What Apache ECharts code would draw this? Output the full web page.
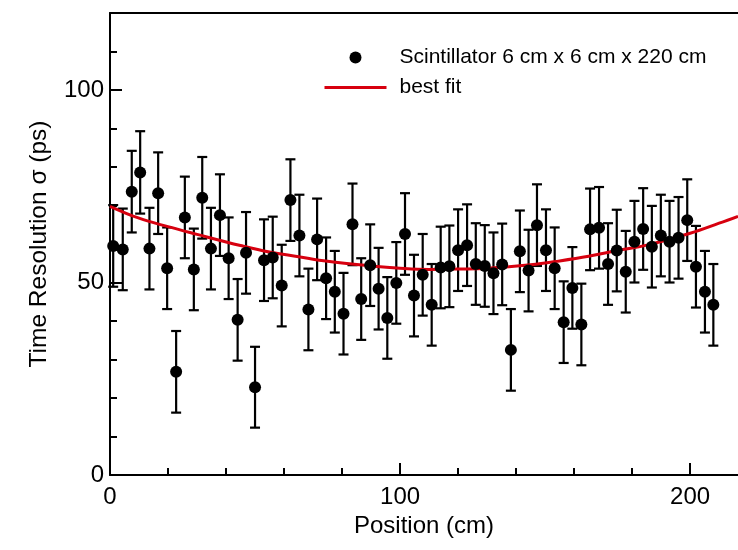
<!DOCTYPE html>
<html>
<head>
<meta charset="utf-8">
<script src="https://cdn.jsdelivr.net/npm/echarts@6/dist/echarts.min.js"></script>
<style>
html,body{margin:0;padding:0;background:#fff;}
#chart{width:738px;height:550px;}
</style>
</head>
<body>
<div id="chart"></div>
<script>
// ---- data ----
var positions = [1.1,4.4,7.5,10.4,13.6,16.6,19.7,22.8,25.8,28.9,31.8,34.8,37.9,40.9,44.0,46.9,50.0,53.1,
  56.1,59.2,62.2,65.3,68.4,71.4,74.5,77.5,80.5,83.6,86.6,89.7,92.6,95.6,98.7,101.7,104.8,107.8,
  110.9,114.0,117.0,120.0,123.1,126.1,129.2,132.2,135.2,138.2,141.3,144.3,147.2,150.3,153.3,156.4,159.4,162.5,
  165.5,168.6,171.7,174.7,177.8,180.8,183.8,186.8,189.9,192.9,196.0,199.0,202.0,205.1,208.0];
var resolution = [59.5,58.6,73.6,78.6,58.8,73.2,53.7,26.8,66.9,53.4,72.0,58.8,67.5,56.3,40.3,57.7,22.8,55.8,
  56.5,49.2,71.4,62.2,43.0,61.2,51.1,47.6,41.9,65.1,45.7,54.5,48.4,40.8,49.9,62.6,46.6,52.0,
  44.2,53.9,54.2,58.4,59.7,54.8,54.3,52.4,54.7,32.5,58.1,53.1,64.9,58.4,53.7,39.7,48.6,39.1,
  63.8,64.2,54.8,58.3,52.8,60.6,63.9,59.3,62.2,60.6,61.6,66.2,54.1,47.6,44.2];
var errors = [10.6,10.6,10.6,10.7,10.6,10.6,10.6,10.6,10.6,10.6,10.6,10.6,10.6,10.6,10.6,10.6,10.5,10.6,
  10.6,10.6,10.6,10.6,10.6,10.6,10.6,10.6,10.6,10.6,10.6,10.6,10.6,10.6,10.6,10.6,10.6,10.6,
  10.6,10.6,10.6,10.6,10.6,10.6,10.6,10.6,10.6,10.6,10.6,10.6,10.6,10.6,10.6,10.6,10.6,10.6,
  10.6,10.6,10.6,10.6,10.6,10.6,10.6,10.6,10.6,10.6,10.6,10.6,10.6,10.6,10.6];
var fitX = [0,10,20,30,45,55,65,75,90,100,110,120,130,145,155,165,175,185,200,210,216.5];
var fitY = [69.8,66.7,64.5,62.5,59.6,57.9,56.7,55.5,54.3,53.7,53.4,53.5,53.7,54.6,55.6,56.8,58.3,59.7,62.8,65.4,67.2];
var xMajorTicks = [0,100,200];
var xMinorTicks = [20,40,60,80,120,140,160,180];
var yMajorTicks = [0,50,100];
var yMinorTicks = [10,20,30,40,60,70,80,90,110];
var seriesName = 'Scintillator 6 cm x 6 cm x 220 cm';
var fitName = 'best fit';

var FONT = '"Liberation Sans", Arial, Helvetica, sans-serif';
var XMAX = 216.5, YMAX = 120;

var pts = positions.map(function(x,i){ return [x, resolution[i]]; });
var bars = positions.map(function(x,i){ return [x, resolution[i]-errors[i], resolution[i]+errors[i]]; });
var fit = fitX.map(function(x,i){ return [x, fitY[i]]; });

var chart = echarts.init(document.getElementById('chart'), null, {renderer:'canvas'});
var axisLineStyle = {color:'#000', width:2};
chart.setOption({
  backgroundColor:'#fff',
  animation:false,
  grid:{left:110, right:0, top:13, bottom:75, containLabel:false},
  legend:{
    orient:'vertical', left:323, top:47, padding:0,
    itemWidth:62, itemHeight:12, itemGap:9,
    data:[
      {name:seriesName, icon:'circle', itemStyle:{color:'#000', opacity:1}},
      {name:fitName, itemStyle:{opacity:0}, lineStyle:{color:'#d7000f', width:3}}
    ],
    textStyle:{fontFamily:FONT, fontSize:21, color:'#000', lineHeight:20, padding:[0,0,0,8]}
  },
  xAxis:[
    {type:'value', min:0, max:XMAX, position:'bottom',
     axisLine:{show:true, lineStyle:axisLineStyle},
     axisTick:{show:true, inside:true, length:12, lineStyle:{color:'#000', width:2}, customValues:xMajorTicks},
     axisLabel:{show:true, customValues:xMajorTicks, fontFamily:FONT, fontSize:24, color:'#000', margin:10},
     splitLine:{show:false},
     name:'Position (cm)', nameLocation:'middle', nameGap:38,
     nameTextStyle:{fontFamily:FONT, fontSize:24, color:'#000'}},
    {type:'value', min:0, max:XMAX, position:'bottom',
     axisLine:{show:false},
     axisTick:{show:true, inside:true, length:7, lineStyle:{color:'#000', width:2}, customValues:xMinorTicks},
     axisLabel:{show:false}, splitLine:{show:false}},
    {type:'value', min:0, max:XMAX, position:'top',
     axisLine:{show:true, lineStyle:axisLineStyle},
     axisTick:{show:false}, axisLabel:{show:false}, splitLine:{show:false}}
  ],
  yAxis:[
    {type:'value', min:0, max:YMAX, position:'left',
     axisLine:{show:true, lineStyle:axisLineStyle},
     axisTick:{show:true, inside:true, length:12, lineStyle:{color:'#000', width:2}, customValues:yMajorTicks},
     axisLabel:{show:true, customValues:yMajorTicks, fontFamily:FONT, fontSize:24, color:'#000', margin:6},
     splitLine:{show:false},
     name:'Time Resolution \u03c3 (ps)', nameLocation:'middle', nameGap:58,
     nameTextStyle:{fontFamily:FONT, fontSize:24.5, color:'#000'}},
    {type:'value', min:0, max:YMAX, position:'left',
     axisLine:{show:false},
     axisTick:{show:true, inside:true, length:7, lineStyle:{color:'#000', width:2}, customValues:yMinorTicks},
     axisLabel:{show:false}, splitLine:{show:false}}
  ],
  series:[
    {type:'custom', name:'errors', xAxisIndex:0, yAxisIndex:0, z:1,
     encode:{x:0, y:[1,2]},
     data:bars,
     renderItem:function(params, api){
       var x = api.value(0);
       var lo = api.coord([x, api.value(1)]);
       var hi = api.coord([x, api.value(2)]);
       var hw = 5;
       var st = {stroke:'#000', lineWidth:2.2};
       return {type:'group', children:[
         {type:'line', shape:{x1:lo[0], y1:lo[1], x2:hi[0], y2:hi[1]}, style:st},
         {type:'line', shape:{x1:hi[0]-hw, y1:hi[1], x2:hi[0]+hw, y2:hi[1]}, style:st},
         {type:'line', shape:{x1:lo[0]-hw, y1:lo[1], x2:lo[0]+hw, y2:lo[1]}, style:st}
       ]};
     }},
    {type:'line', name:fitName, xAxisIndex:0, yAxisIndex:0, z:2,
     data:fit, smooth:0.4, showSymbol:false, symbol:'none',
     lineStyle:{color:'#d7000f', width:3}, itemStyle:{color:'#d7000f'}},
    {type:'scatter', name:seriesName, xAxisIndex:0, yAxisIndex:0, z:3,
     data:pts, symbol:'circle', symbolSize:12,
     itemStyle:{color:'#000', opacity:1}}
  ]
});
</script>
</body>
</html>
